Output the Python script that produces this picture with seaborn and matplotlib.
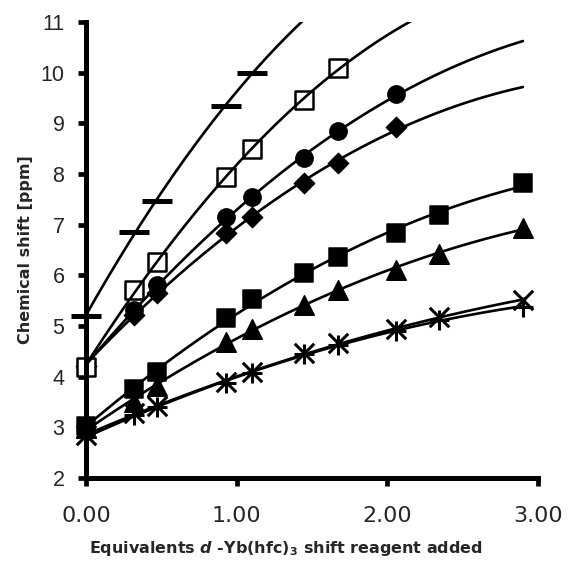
import numpy as np
import pandas as pd
import matplotlib
matplotlib.use("Agg")
import matplotlib.pyplot as plt
import seaborn as sns

# ---- data ----
eq = [0.00, 0.32, 0.47, 0.93, 1.10, 1.45, 1.67, 2.06, 2.34, 2.90]

dash_y     = [5.20, 6.86, 7.47, 9.35, 9.99]
osq_y      = [4.20, 5.71, 6.27, 7.94, 8.49, 9.46, 10.09]
circle_y   = [4.22, 5.31, 5.80, 7.15, 7.54, 8.32, 8.84, 9.57]
diamond_y  = [4.22, 5.21, 5.66, 6.84, 7.16, 7.82, 8.21, 8.92]
fsq_y      = [3.02, 3.76, 4.09, 5.15, 5.53, 6.05, 6.36, 6.84, 7.19, 7.82]
tri_y      = [2.98, 3.50, 3.82, 4.69, 4.95, 5.42, 5.71, 6.11, 6.43, 6.93]
x_y        = [2.85, 3.28, 3.42, 3.89, 4.10, 4.46, 4.66, 4.94, 5.17, 5.52]
plus_y     = [2.80, 3.25, 3.40, 3.88, 4.08, 4.44, 4.63, 4.90, 5.12, 5.38]

yticks = [2, 3, 4, 5, 6, 7, 8, 9, 10, 11]
xticks = [0.0, 1.0, 2.0, 3.0]
xticklabels = ["0.00", "1.00", "2.00", "3.00"]

sns.set_theme(style="white")
plt.rcParams["font.family"] = ["Liberation Sans", "DejaVu Sans"]
plt.rcParams["mathtext.fontset"] = "custom"
plt.rcParams["mathtext.rm"] = "DejaVu Sans:bold"
plt.rcParams["mathtext.it"] = "DejaVu Sans:italic:bold"
plt.rcParams["mathtext.bf"] = "DejaVu Sans:bold"

fig = plt.figure(figsize=(5.69, 5.62), dpi=100)
ax = fig.add_axes([86 / 569, 1 - 478 / 562, 452 / 569, 456 / 562])

series = [
    ("dash", dash_y, dict(marker="_", s=21 ** 2, linewidths=3.6, color="black")),
    ("circle", circle_y, dict(marker="o", s=12.5 ** 2, color="black", edgecolor="black")),
    ("diamond", diamond_y, dict(marker="D", s=10.5 ** 2, color="black", edgecolor="black")),
    ("fsq", fsq_y, dict(marker="s", s=13.5 ** 2, color="black", edgecolor="black")),
    ("tri", tri_y, dict(marker="^", s=14 ** 2, color="black", edgecolor="black")),
    ("x", x_y, dict(marker="x", s=14 ** 2, linewidths=2.2, color="black")),
    ("plus", plus_y, dict(marker="+", s=14 ** 2, linewidths=2.2, color="black")),
    ("osq", osq_y, dict(marker="s", s=13.5 ** 2, facecolors="white", edgecolors="black", linewidths=1.8)),
]

for name, ys, kw in series:
    xs = eq[:len(ys)]
    df = pd.DataFrame({"x": xs, "y": ys})
    sns.scatterplot(data=df, x="x", y="y", ax=ax, zorder=3, clip_on=False, **kw)

xgrid = np.linspace(0, 2.9, 200)
for name, ys, kw in series:
    xs = eq[:len(ys)]
    coef = np.polyfit(xs, ys, 2)
    curve = pd.DataFrame({"x": xgrid, "y": np.polyval(coef, xgrid)})
    sns.lineplot(data=curve, x="x", y="y", ax=ax, color="black", lw=1.9, zorder=4)

ax.set_xlim(0, 3)
ax.set_ylim(2, 11)
ax.set_xticks(xticks)
ax.set_xticklabels(xticklabels)
ax.set_yticks(yticks)
ax.set_yticklabels([str(t) for t in yticks])

for side in ["top", "right"]:
    ax.spines[side].set_visible(False)
for side in ["left", "bottom"]:
    ax.spines[side].set_linewidth(3.6)
    ax.spines[side].set_color("black")
    ax.spines[side].set_zorder(5)

ax.tick_params(axis="both", direction="out", length=5.5, width=3.4, color="black",
               left=True, bottom=True)
ax.tick_params(axis="y", labelsize=15.5, pad=10)
ax.tick_params(axis="x", labelsize=16, pad=15)
for lab in ax.get_xticklabels():
    lab.set_family(["DejaVu Sans"])

ax.set_xlabel(r"Equivalents $\mathit{d}$ -Yb(hfc)$_3$ shift reagent added",
              fontsize=11.5, fontweight="bold", family=["DejaVu Sans"])
ax.set_ylabel("Chemical shift [ppm]", fontsize=11.5, fontweight="bold",
              family=["DejaVu Sans"])
ax.xaxis.set_label_coords(0.442, -0.133)
ax.yaxis.set_label_coords(-0.117, 0.5)

fig.savefig("out.png", dpi=100)
